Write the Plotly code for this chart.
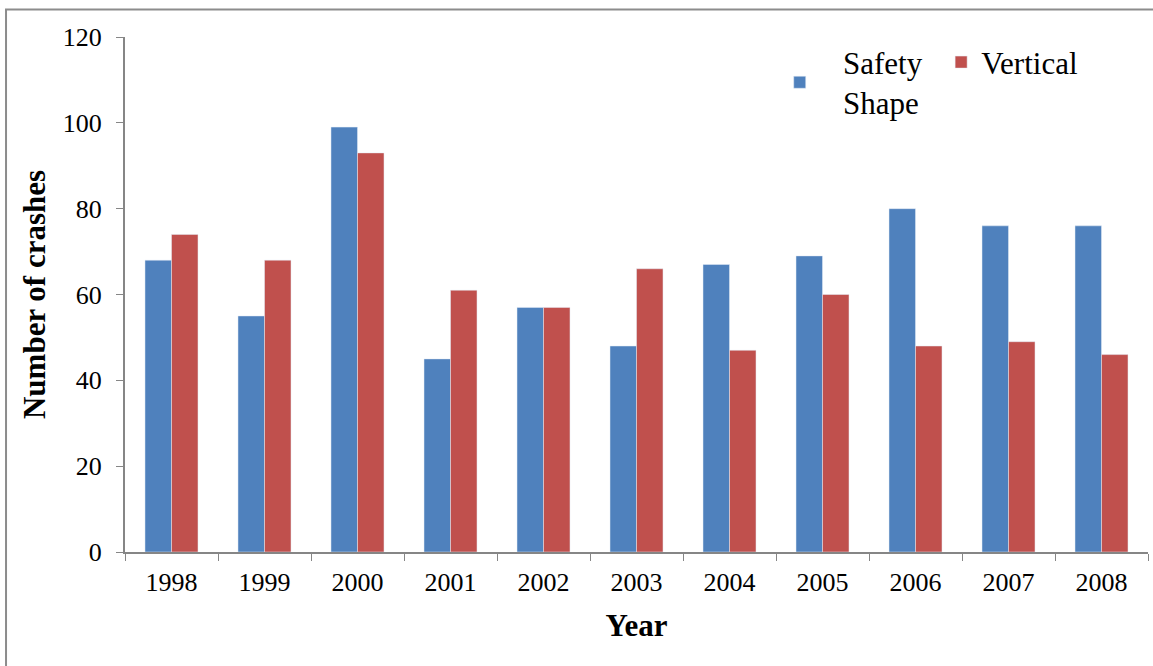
import plotly.graph_objects as go

years = ["1998", "1999", "2000", "2001", "2002", "2003", "2004", "2005", "2006", "2007", "2008"]
safety_shape = [68, 55, 99, 45, 57, 48, 67, 69, 80, 76, 76]
vertical = [74, 68, 93, 61, 57, 66, 47, 60, 48, 49, 46]

serif = "Liberation Serif, Times New Roman, serif"
pad = "\u00a0" * 3

fig = go.Figure()
fig.add_trace(go.Bar(x=years, y=safety_shape,
                     name=pad + "Safety\u00a0\u2009<br>" + pad + "Shape",
                     marker_color="#4F81BD"))
fig.add_trace(go.Bar(x=years, y=vertical, name="Vertical", marker_color="#C0504D"))

fig.update_layout(
    width=1153, height=666,
    margin=dict(l=125, r=5, t=37, b=114),
    paper_bgcolor="white", plot_bgcolor="white",
    barmode="group", bargap=0.43, bargroupgap=0,
    font=dict(family=serif, size=26, color="black"),
    legend=dict(orientation="h", x=0.64, y=1.003, xanchor="left", yanchor="top",
                font=dict(size=31), bgcolor="rgba(0,0,0,0)", valign="middle"),
    xaxis=dict(
        title=dict(text="<b>Year</b>", font=dict(size=31), standoff=18),
        showline=True, linecolor="#868686", linewidth=2,
        ticks="outside", tickson="boundaries", ticklen=7, tickcolor="#868686",
        ticklabelstandoff=6, showgrid=False,
    ),
    yaxis=dict(
        title=dict(text="<b>Number of crashes</b>", font=dict(size=31), standoff=8),
        range=[0, 120], dtick=20,
        showline=True, linecolor="#868686", linewidth=2,
        ticks="outside", ticklen=7, tickcolor="#868686",
        ticklabelstandoff=9, showgrid=False, zeroline=False,
    ),
    shapes=[dict(type="rect", xref="paper", yref="paper",
                 x0=-0.1163, x1=1.02, y0=-0.3, y1=1.0534,
                 line=dict(color="#8c8c8c", width=2))],
)

fig.write_html("out.html", config={"displayModeBar": False},
               post_script="document.body.style.margin='0px';")
